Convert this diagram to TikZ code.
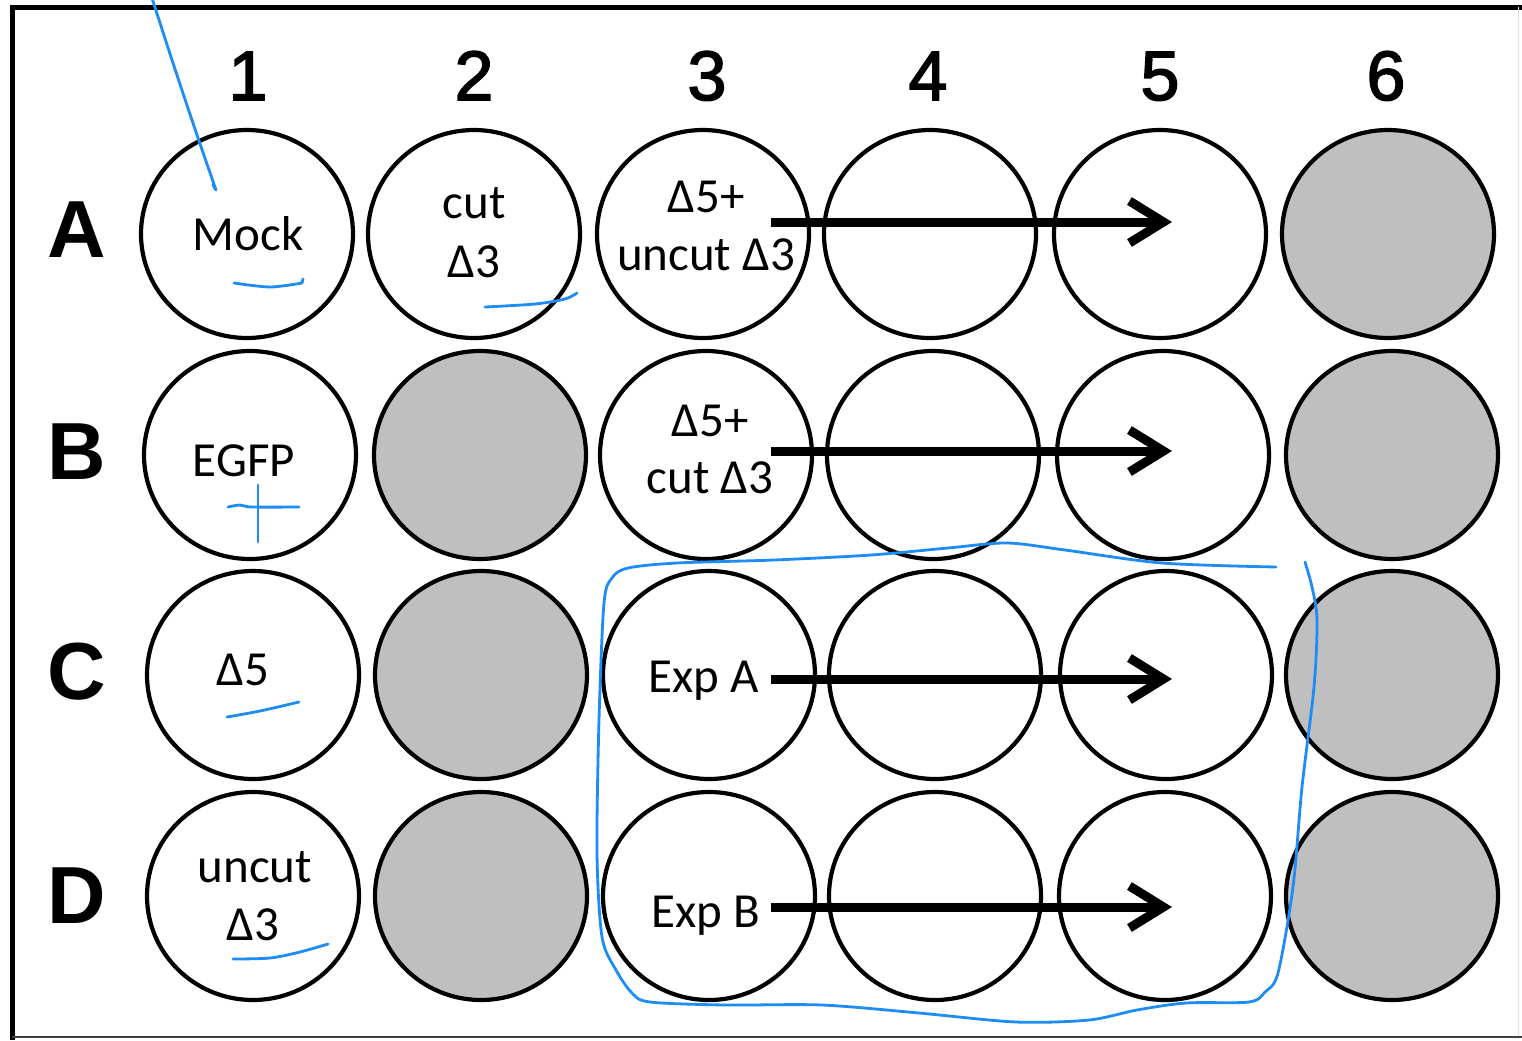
\documentclass[tikz,border=0pt]{standalone}
\usepackage{fontspec}
\setmainfont{Carlito}
\newfontfamily\arialfont{Liberation Sans}
\newfontfamily\digitfont[BoldFont={Liberation Sans},BoldFeatures={FakeBold=2.2}]{Liberation Sans}
\usetikzlibrary{shapes.geometric,arrows.meta}
\definecolor{wellgray}{RGB}{191,191,191}
\definecolor{pen}{RGB}{30,140,245}
\begin{document}
\begin{tikzpicture}[x=0.5pt,y=-0.5pt,
  well/.style={draw=black,line width=2.1pt,ellipse,minimum width=106pt,minimum height=104pt,inner sep=0pt},
  emptywell/.style={well,fill=white},
  greywell/.style={well,fill=wellgray},
  welltext/.style={font=\fontsize{24.5}{29.5}\selectfont,inner sep=0pt,anchor=base},
  colnum/.style={font=\digitfont\bfseries\fontsize{35}{35}\selectfont,inner sep=0pt,anchor=base},
  rowlab/.style={font=\arialfont\bfseries\fontsize{40.5}{40.5}\selectfont,inner sep=0pt,anchor=base},
  flow/.style={line width=4.5pt,-{Straight Barb[length=17pt,width=21pt]}},
  ink/.style={draw=pen,line width=1.4pt,line cap=round,line join=round}]

\useasboundingbox (0,0) rectangle (1522,1040);
\fill[white] (0,0) rectangle (1522,1040);

% frame
\draw[line width=2.5pt] (12,1040) -- (12,7) -- (1522,7);
\draw[line width=1pt,black!75] (12,1037) -- (1522,1037);
\draw[line width=0.4pt,black!12] (1518,7) -- (1518,1036);

% column numbers
\node[colnum] (c1) at (248,100) {1};
\node[colnum] (c2) at (474,100) {2};
\node[colnum] (c3) at (707,100) {3};
\node[colnum] (c4) at (928,100) {4};
\node[colnum] (c5) at (1160,100) {5};
\node[colnum] (c6) at (1386,100) {6};

% row labels
\node[rowlab] (rA) at (77,257) {A};
\node[rowlab] (rB) at (77,479) {B};
\node[rowlab] (rC) at (77,699) {C};
\node[rowlab] (rD) at (77,923) {D};

% wells row A
\node[emptywell] (A1) at (247,234) {};
\node[emptywell] (A2) at (474,234) {};
\node[emptywell] (A3) at (703,234) {};
\node[emptywell] (A4) at (930,234) {};
\node[emptywell] (A5) at (1160,234) {};
\node[greywell]  (A6) at (1388,234) {};
% row B
\node[emptywell] (B1) at (250,455) {};
\node[greywell]  (B2) at (480,455) {};
\node[emptywell] (B3) at (706,455) {};
\node[emptywell] (B4) at (933,455) {};
\node[emptywell] (B5) at (1163,455) {};
\node[greywell]  (B6) at (1392,455) {};
% row C
\node[emptywell] (C1) at (253,675) {};
\node[greywell]  (C2) at (481,675) {};
\node[emptywell] (C3) at (709,675) {};
\node[emptywell] (C4) at (935,675) {};
\node[emptywell] (C5) at (1166,675) {};
\node[greywell]  (C6) at (1392,675) {};
% row D
\node[emptywell] (D1) at (253,896) {};
\node[greywell]  (D2) at (481,896) {};
\node[emptywell] (D3) at (709,896) {};
\node[emptywell] (D4) at (935,896) {};
\node[emptywell] (D5) at (1165,896) {};
\node[greywell]  (D6) at (1392,896) {};

% well texts
\node[welltext] (tA1) at (248,250) {Mock};
\node[welltext] (tA2a) at (474,218) {cut};
\node[welltext] (tA2b) at (474,277) {Δ3};
\node[welltext] (tA3a) at (706,212) {Δ5+};
\node[welltext] (tA3b) at (706,270) {uncut Δ3};
\node[welltext] (tB1) at (244,476) {EGFP};
\node[welltext] (tB3a) at (710,436) {Δ5+};
\node[welltext] (tB3b) at (710,493) {cut Δ3};
\node[welltext] (tC1) at (243,685) {Δ5};
\node[welltext] (tC3) at (704,692) {Exp A};
\node[welltext] (tD1a) at (255,882) {uncut};
\node[welltext] (tD1b) at (253,940) {Δ3};
\node[welltext] (tD3) at (706,927) {Exp B};

% arrow end points
\coordinate (sA) at (771,222); \coordinate (eA) at (1172,222);
\coordinate (sB) at (771,451); \coordinate (eB) at (1172,451);
\coordinate (sC) at (771,679); \coordinate (eC) at (1172,679);
\coordinate (sD) at (771,907); \coordinate (eD) at (1172,907);
\draw[flow] (sA) -- (eA);
\draw[flow] (sB) -- (eB);
\draw[flow] (sC) -- (eC);
\draw[flow] (sD) -- (eD);

% blue hand annotations
\draw[ink] plot[smooth] coordinates {(152,-2) (172,60) (197,135) (216,190)};
\draw[ink] (216,190) -- (213,185);
\draw[ink] plot[smooth] coordinates {(234,283) (270,287) (302,283)} -- (303,279);
\draw[ink] plot[smooth] coordinates {(485,307) (535,304) (565,299) (577,293)};
\draw[ink] plot[smooth] coordinates {(228,507) (240,505) (252,507) (299,507)};
\draw[ink] (258,485) -- (258,542);
\draw[ink] plot[smooth] coordinates {(227,717) (260,711) (299,702)};
\draw[ink] plot[smooth] coordinates {(233,959) (270,958) (300,952) (328,944)};
\draw[ink] plot[smooth] coordinates {
  (1276,567) (1162,563) (1065,550) (1007,543) (948,548) (871,555) (774,560)
  (677,563) (628,568) (612,578) (604,603) (599,720) (597,853) (602,937)
  (616,970) (632,993) (650,1002) (725,1005) (822,1005) (919,1013) (1016,1022)
  (1089,1020) (1137,1010) (1186,1003) (1249,1002) (1265,992) (1278,973)
  (1293,887) (1302,787) (1314,687) (1317,620) (1312,587) (1305,562)};
\end{tikzpicture}
\end{document}
